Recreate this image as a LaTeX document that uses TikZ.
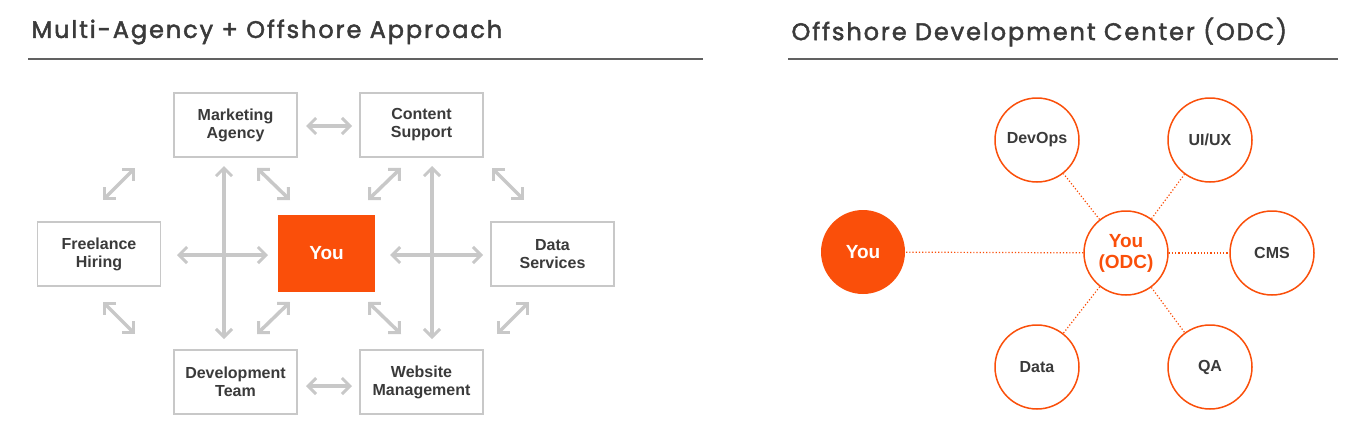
\documentclass[tikz,border=0pt]{standalone}
\usepackage{fontspec}
\setmainfont{Liberation Sans}
\newfontfamily\titlefont[LetterSpace=8,FakeBold=2]{Poppins}
\usetikzlibrary{arrows.meta}
\definecolor{org}{HTML}{FA4F0A}
\definecolor{gr}{HTML}{C8C8C8}
\definecolor{txt}{HTML}{3A3A3A}
\tikzset{
 box/.style={draw=gr,line width=1.5pt,minimum width=123pt,minimum height=64pt,align=center,font=\bfseries\fontsize{16}{18}\selectfont,text=txt},
 arr/.style={draw=gr,line width=3.5pt,{Straight Barb[length=8pt,width=16pt,line width=3pt]}-{Straight Barb[length=8pt,width=16pt,line width=3pt]}},
 circ/.style={circle,draw=org,line width=1.5pt,minimum size=84pt,font=\bfseries\fontsize{16}{18}\selectfont,text=txt,align=center},
 dot/.style={draw=org,line width=1.2pt,dotted},
 ttl/.style={anchor=west,font=\titlefont\fontsize{24}{27}\selectfont,text=txt}
}
\begin{document}
\begin{tikzpicture}[x=1pt,y=-1pt]
\useasboundingbox (0,0) rectangle (1366,442);
\node[ttl] (t1) at (28,32) {Multi-Agency + Offshore Approach};
\node[ttl] (t2) at (788,32) {Offshore Development Center (ODC)};
\draw[txt!80,line width=1.5pt] (28,59) coordinate (l1a) -- (703,59) coordinate (l1b);
\draw[txt!80,line width=1.5pt] (788,59) coordinate (l2a) -- (1338,59) coordinate (l2b);
\node[box] (mk) at (235.5,125) {Marketing\\Agency};
\node[box] (cs) at (421.5,125) {Content\\Support};
\node[box] (fh) at (99,254) {Freelance\\Hiring};
\node[box] (ds) at (552.5,254) {Data\\Services};
\node[box] (dt) at (235.5,382) {Development\\Team};
\node[box] (wm) at (421.5,382) {Website\\Management};
\node[fill=org,minimum width=97pt,minimum height=77pt,font=\bfseries\fontsize{19}{21}\selectfont,text=white] (you) at (326.5,253.5) {You};
\foreach \a/\b/\c/\d in {224/166/224/339, 177/255/268/255, 390/255/483/255, 432/166/432/339, 306/126/352/126, 306/386/352/386,
 103/200/135/168, 257/168/290/200, 368/200/401/168, 492/168/524/200, 103/302/135/334, 257/334/290/302, 368/302/401/334, 497/334/529/302}
 {\draw[arr] (\a,\b) coordinate (s) -- (\c,\d) coordinate (e);}
\node[circle,fill=org,minimum size=84pt,font=\bfseries\fontsize{19}{21}\selectfont,text=white] (y2) at (863,252) {You};
\node[circ,text=org,font=\bfseries\fontsize{19}{21}\selectfont] (odc) at (1126,253) {You\\(ODC)};
\node[circ] (dev) at (1037,140) {DevOps};
\node[circ] (ui) at (1210,140) {UI/UX};
\node[circ] (cms) at (1272,253) {CMS};
\node[circ] (da) at (1037,367) {Data};
\node[circ] (qa) at (1210,367) {QA};
\foreach \n in {y2,dev,ui,cms,da,qa} \draw[dot] (odc) -- (\n);
\end{tikzpicture}
\end{document}
